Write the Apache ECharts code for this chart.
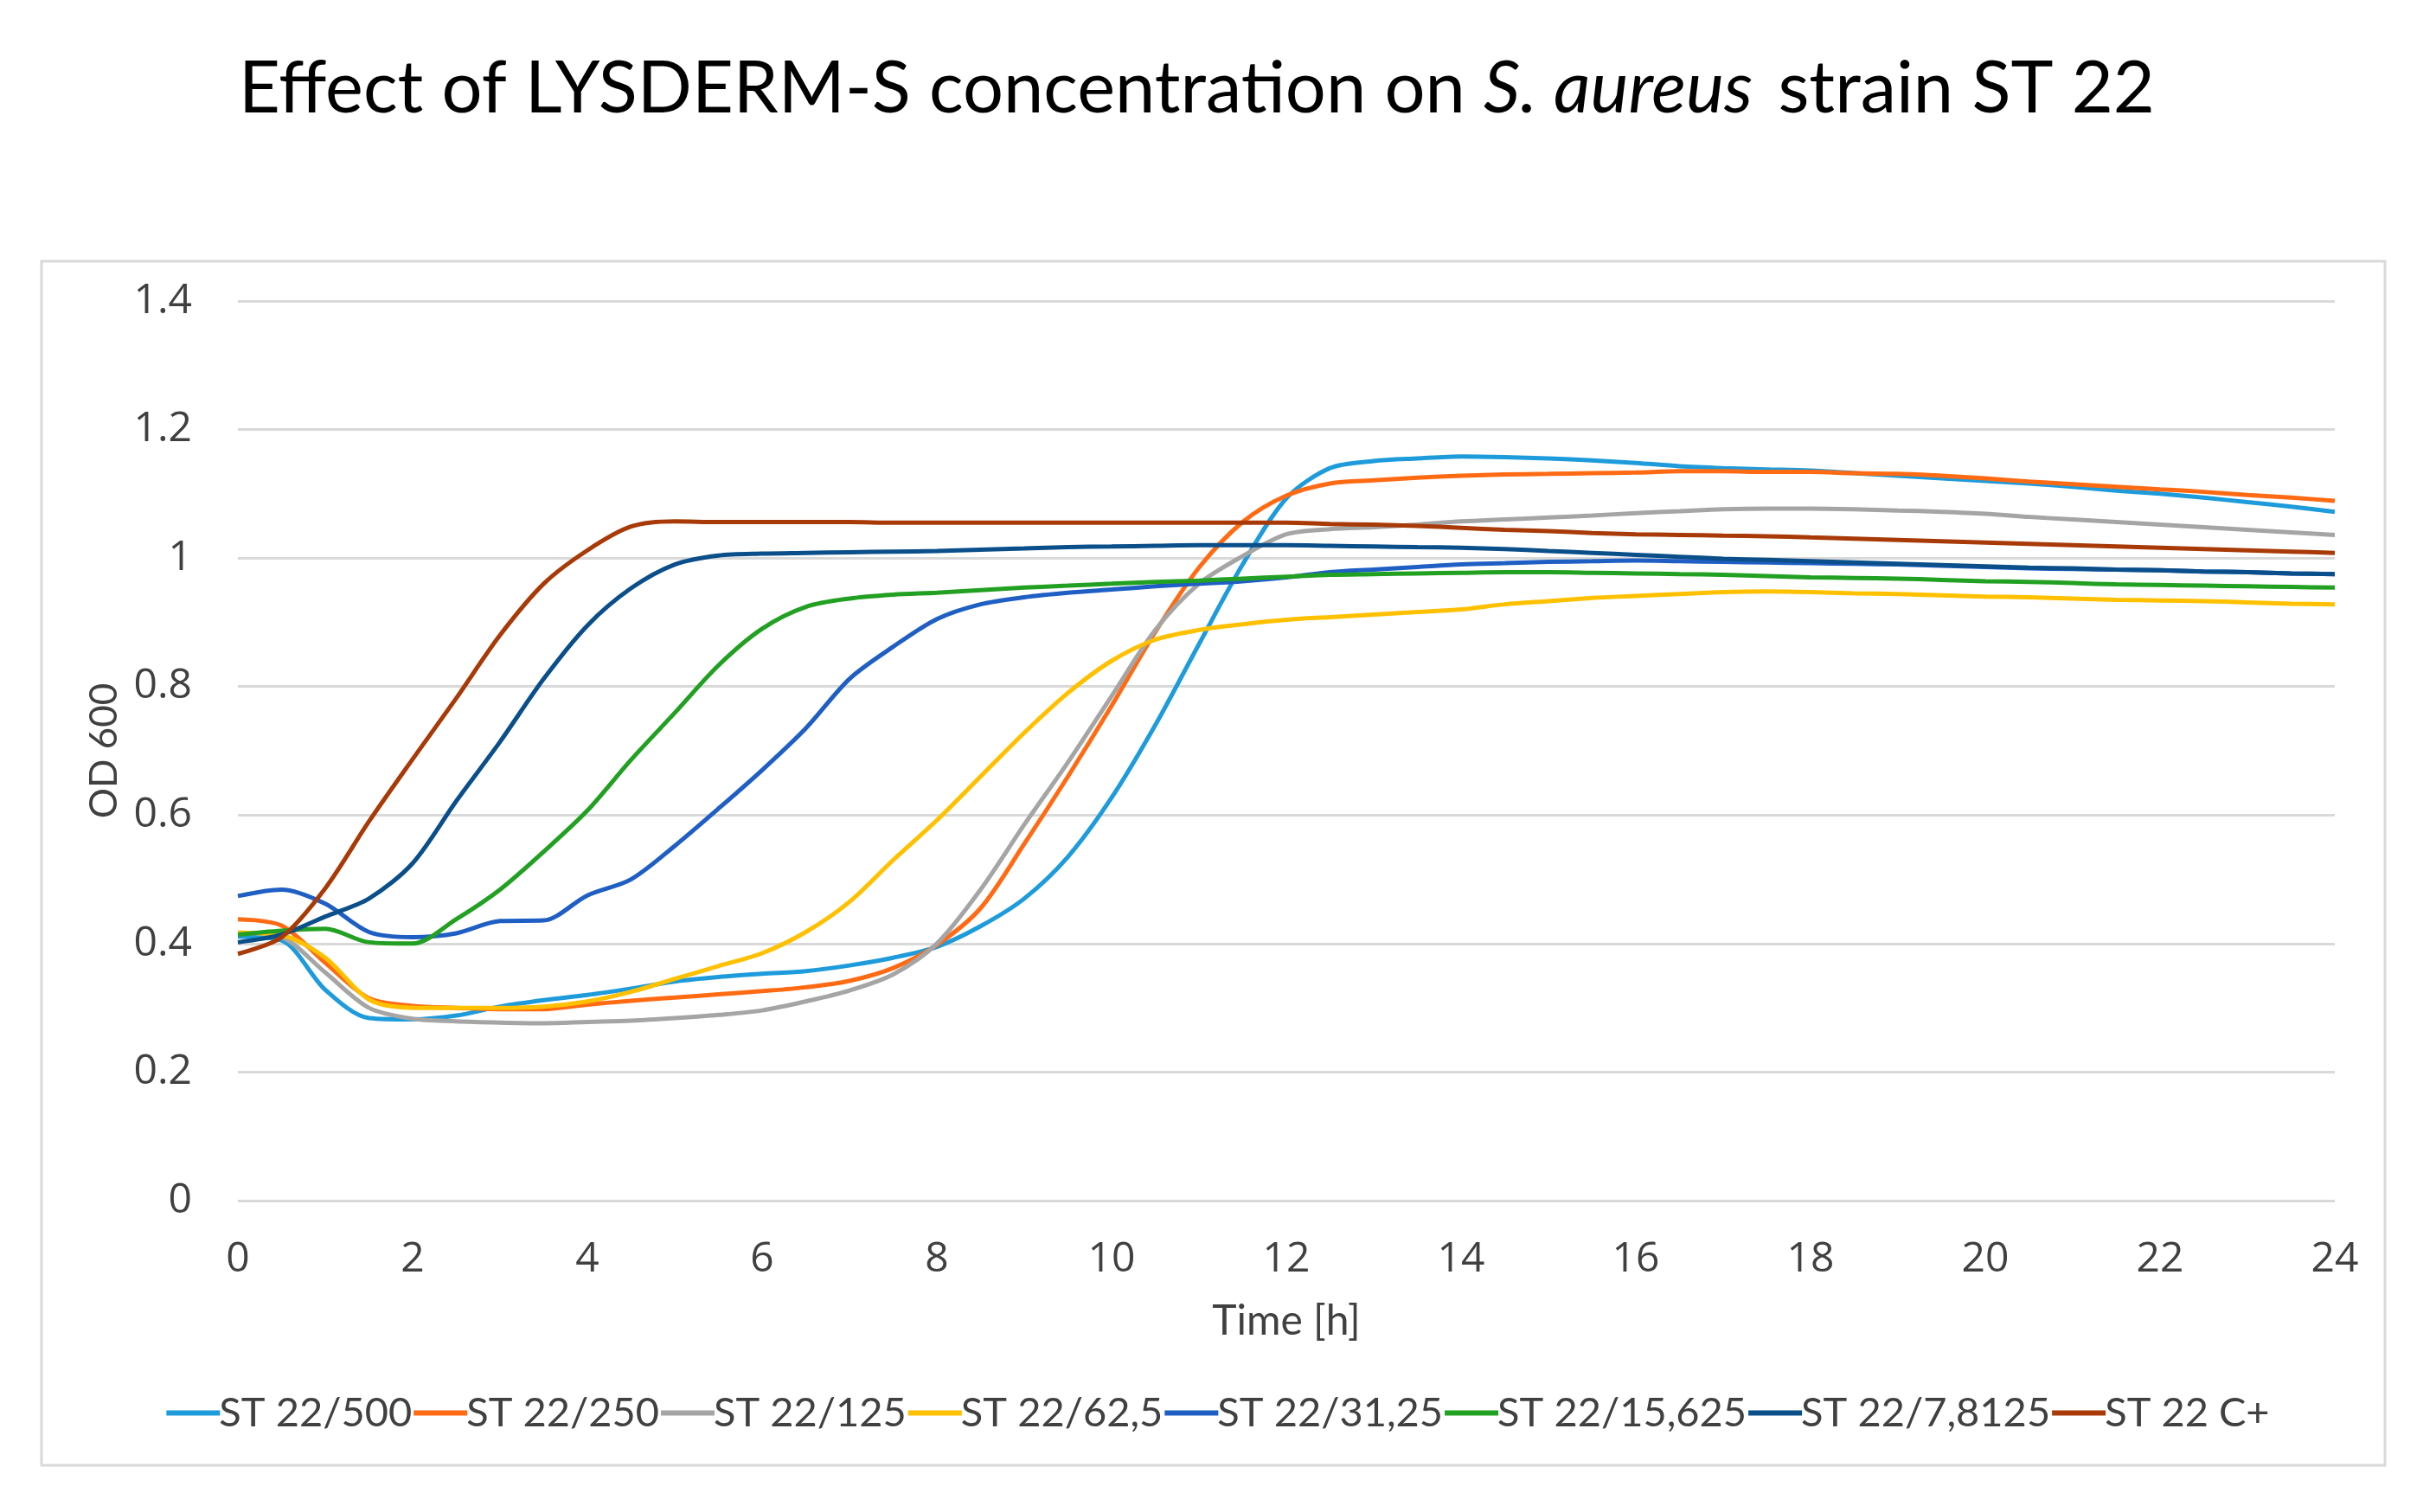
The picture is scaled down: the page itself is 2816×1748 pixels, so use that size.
<!DOCTYPE html>
<html>
<head>
<meta charset="utf-8">
<script src="https://cdn.jsdelivr.net/npm/echarts@6/dist/echarts.min.js"></script>
<style>html,body{margin:0;padding:0;background:#fff;}#c{width:2816px;height:1748px;}</style>
</head>
<body>
<div id="c"></div>
<script>
// Time axis (hours)
const time = [0,0.5,1,1.5,2,2.5,3,3.5,4,4.5,5,5.5,6,6.5,7,7.5,8,8.5,9,9.5,10,10.5,11,11.5,12,12.5,13,13.5,14,14.5,15,15.5,16,16.5,17,17.5,18,18.5,19,19.5,20,20.5,21,21.5,22,22.5,23,23.5,24];

const seriesNames = ['ST 22/500','ST 22/250','ST 22/125','ST 22/62,5','ST 22/31,25','ST 22/15,625','ST 22/7,8125','ST 22 C+'];

const st500 = [0.411,0.405,0.328,0.284,0.282,0.288,0.302,0.312,0.320,0.330,0.341,0.348,0.353,0.357,0.366,0.378,0.395,0.427,0.470,0.535,0.627,0.740,0.866,0.990,1.093,1.140,1.151,1.155,1.158,1.157,1.155,1.152,1.148,1.143,1.140,1.138,1.136,1.132,1.128,1.124,1.120,1.116,1.111,1.105,1.100,1.094,1.087,1.080,1.072];
const st250 = [0.438,0.428,0.370,0.315,0.303,0.300,0.298,0.298,0.305,0.311,0.316,0.321,0.326,0.332,0.342,0.362,0.398,0.455,0.555,0.660,0.770,0.885,0.985,1.056,1.097,1.116,1.121,1.125,1.128,1.130,1.131,1.132,1.133,1.135,1.135,1.134,1.134,1.132,1.131,1.128,1.124,1.119,1.115,1.111,1.107,1.103,1.098,1.094,1.089];
const st125 = [0.417,0.410,0.355,0.300,0.283,0.279,0.277,0.276,0.278,0.280,0.284,0.289,0.296,0.310,0.327,0.352,0.400,0.484,0.585,0.682,0.785,0.888,0.960,1.003,1.037,1.045,1.048,1.052,1.057,1.060,1.063,1.066,1.070,1.073,1.076,1.077,1.077,1.076,1.074,1.072,1.069,1.064,1.060,1.056,1.052,1.048,1.044,1.040,1.036];
const st62 = [0.417,0.413,0.378,0.313,0.300,0.300,0.300,0.302,0.310,0.325,0.345,0.365,0.385,0.418,0.465,0.530,0.592,0.660,0.728,0.790,0.840,0.873,0.888,0.897,0.904,0.908,0.912,0.916,0.920,0.928,0.933,0.938,0.941,0.944,0.947,0.948,0.947,0.945,0.944,0.942,0.940,0.939,0.937,0.935,0.934,0.933,0.931,0.929,0.928];
const st31 = [0.474,0.484,0.462,0.418,0.410,0.416,0.435,0.436,0.475,0.500,0.552,0.610,0.670,0.735,0.812,0.862,0.905,0.928,0.939,0.946,0.951,0.956,0.960,0.964,0.970,0.978,0.982,0.986,0.990,0.992,0.994,0.995,0.996,0.995,0.994,0.993,0.992,0.991,0.990,0.988,0.986,0.984,0.983,0.982,0.981,0.979,0.978,0.976,0.975];
const st15 = [0.414,0.420,0.423,0.402,0.400,0.438,0.484,0.543,0.607,0.686,0.759,0.833,0.890,0.924,0.937,0.943,0.946,0.950,0.954,0.957,0.960,0.963,0.965,0.968,0.971,0.974,0.975,0.976,0.977,0.978,0.978,0.977,0.976,0.975,0.974,0.972,0.970,0.969,0.968,0.966,0.964,0.963,0.961,0.959,0.958,0.957,0.956,0.955,0.954];
const st7 = [0.402,0.414,0.442,0.470,0.525,0.622,0.714,0.812,0.895,0.953,0.990,1.004,1.007,1.008,1.009,1.010,1.011,1.013,1.015,1.017,1.018,1.019,1.020,1.020,1.020,1.019,1.018,1.017,1.016,1.014,1.011,1.008,1.005,1.002,0.999,0.997,0.995,0.993,0.991,0.989,0.987,0.985,0.984,0.982,0.981,0.979,0.978,0.976,0.975];
const stC = [0.384,0.410,0.486,0.590,0.687,0.782,0.880,0.960,1.012,1.049,1.057,1.056,1.056,1.056,1.056,1.055,1.055,1.055,1.055,1.055,1.055,1.055,1.055,1.055,1.055,1.053,1.052,1.050,1.047,1.044,1.042,1.039,1.037,1.036,1.035,1.034,1.032,1.030,1.028,1.026,1.024,1.022,1.020,1.018,1.016,1.014,1.012,1.010,1.008];

const yTicks = [0,0.2,0.4,0.6,0.8,1,1.2,1.4];
const xTicks = [0,2,4,6,8,10,12,14,16,18,20,22,24];

const seriesData = [st500, st250, st125, st62, st31, st15, st7, stC];
const colors = ['#1E9BDB','#FF6A13','#A5A5A5','#FFC000','#1F5FC4','#22A022','#0B4F8A','#A83A08'];

const chart = echarts.init(document.getElementById('c'), null, {renderer:'canvas'});
const option = {
  backgroundColor: '#fff',
  animation: false,
  title: {
    text: '{a|Effect of LYSDERM-S concentration on }{i|S. aureus}{a| strain ST 22}',
    left: 276, top: 62, padding: 0,
    textStyle: {
      fontWeight: 'normal',
      rich: {
        a: {fontFamily: 'Lato', fontSize: 83, fontWeight: 'normal', color: '#000'},
        i: {fontFamily: 'Lato', fontSize: 83, fontWeight: 'normal', color: '#000', fontStyle: 'italic', padding: [0, 8, 0, 0]}
      }
    }
  },
  graphic: [{
    type: 'rect', shape: {x: 48, y: 302, width: 2709, height: 1392},
    style: {fill: 'none', stroke: '#d9d9d9', lineWidth: 3}, silent: true, z: -1
  }],
  grid: {left: 275, right: 117, top: 348, bottom: 360, containLabel: false},
  legend: {
    data: seriesNames,
    bottom: 86, left: 'center',
    icon: 'rect', itemWidth: 62, itemHeight: 6, itemGap: 2,
    textStyle: {fontFamily: 'Lato', fontSize: 47, color: '#404040', padding: [0,0,0,-6]}
  },
  xAxis: {
    type: 'value', min: 0, max: 24, interval: 2,
    name: 'Time [h]', nameLocation: 'middle', nameGap: 116,
    nameTextStyle: {fontFamily: 'Lato', fontSize: 48, color: '#404040'},
    axisLine: {show: false}, axisTick: {show: false},
    splitLine: {show: false},
    axisLabel: {margin: 44, fontFamily: 'Open Sans', fontSize: 48, color: '#404040',
      formatter: v => xTicks.includes(v) ? String(v) : ''}
  },
  yAxis: {
    type: 'value', min: 0, max: 1.4, interval: 0.2,
    name: 'OD 600', nameLocation: 'middle', nameGap: 132,
    nameTextStyle: {fontFamily: 'Lato', fontSize: 44, color: '#404040'},
    axisLine: {show: false}, axisTick: {show: false},
    splitLine: {lineStyle: {color: '#d9d9d9', width: 3}},
    axisLabel: {margin: 53, fontFamily: 'Open Sans', fontSize: 48, color: '#404040',
      formatter: v => { const t = yTicks.find(k => Math.abs(k - v) < 1e-9); return t === undefined ? '' : String(t); }}
  },
  series: seriesData.map((arr, i) => ({
    name: seriesNames[i], type: 'line', showSymbol: false, symbol: 'none', smooth: 0.3,
    data: time.map((t, j) => [t, arr[j]]),
    lineStyle: {color: colors[i], width: 5},
    itemStyle: {color: colors[i]}
  }))
};
chart.setOption(option);
</script>
</body>
</html>
